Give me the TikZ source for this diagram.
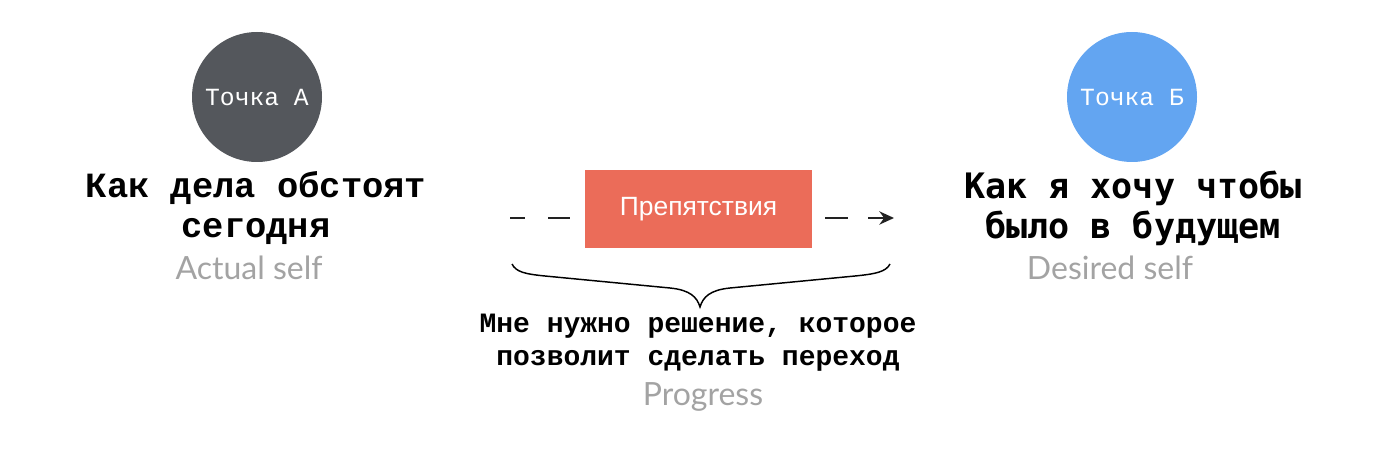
\documentclass[tikz,border=0pt]{standalone}
\usepackage{fontspec}
\setmainfont{Liberation Sans}
\newfontfamily\monofont{Liberation Mono}
\newfontfamily\dvmono{DejaVu Sans Mono}
\newfontfamily\greyfont{Lato}
\usetikzlibrary{arrows.meta}
\definecolor{darkgreyc}{HTML}{54575C}
\definecolor{bluec}{HTML}{63A5F1}
\definecolor{redc}{HTML}{EB6C59}
\definecolor{subgrey}{HTML}{A3A3A3}
\definecolor{linec}{HTML}{222222}
\begin{document}
\begin{tikzpicture}[x=0.75pt,y=-0.75pt,
  point/.style={circle,minimum size=97.5pt,inner sep=0pt,text=white,font=\monofont\fontsize{18.5}{20}\selectfont},
  heading/.style={align=center,font=\bfseries\fontsize{26}{30}\selectfont},
  sub/.style={text=subgrey,font=\greyfont\fontsize{24}{28}\selectfont},
  obstacle/.style={fill=redc,minimum width=170.25pt,minimum height=58.5pt,inner sep=0pt,text=white,font=\fontsize{19.8}{22}\selectfont},
  caption/.style={align=center,font=\monofont\bfseries\fontsize{21}{24.75}\selectfont}]
\useasboundingbox (0,0) rectangle (1400,449);
% left
\node[point,fill=darkgreyc] (pa) at (257,97) {Точка А};
\node[heading,font=\monofont\bfseries\fontsize{26.6}{30}\selectfont] (ha) at (256,208) {Как дела обстоят\\сегодня};
\node[sub] (sa) at (249,268) {Actual self};
% right
\node[point,fill=bluec] (pb) at (1132,97) {Точка Б};
\node[heading,font=\dvmono\bfseries\fontsize{26.3}{30}\selectfont] (hb) at (1133,208) {Как я хочу чтобы\\было в будущем};
\node[sub] (sb) at (1110,268) {Desired self};
% middle
\node[obstacle] (ob) at (698.5,209) {Препятствия};
\coordinate (ls) at (510,218);
\coordinate (re) at (894,218);
\draw[linec,line width=1.3pt,dash pattern=on 11.25pt off 17.25pt on 16.5pt off 20pt] (ls) -- (ls -| ob.west);
\draw[linec,line width=1.3pt,dash pattern=on 0pt off 9.75pt on 17.25pt off 15pt on 30pt,-{Stealth[length=11pt,width=10pt]}] (re -| ob.east) -- (re);
% brace
\coordinate (bl) at (512,264);
\coordinate (br) at (890,264);
\coordinate (bt) at (700,307);
\draw[black,line width=1.1pt] (bl) .. controls (516,272) and (525,274) .. (545,276)
  -- (670,288) .. controls (690,290) and (697,297) .. (bt)
  .. controls (703,297) and (710,290) .. (730,288)
  -- (855,276) .. controls (875,274) and (886,272) .. (br);
\node[caption] (cap) at (698,343) {Мне нужно решение, которое\\позволит сделать переход};
\node[sub] (pr) at (703,397) {Progress};
\end{tikzpicture}
\end{document}
